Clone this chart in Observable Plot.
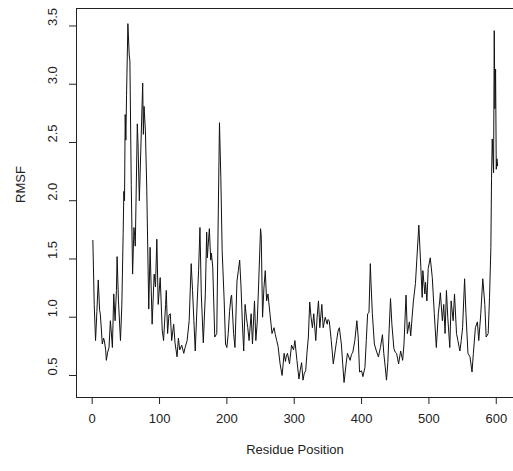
<!DOCTYPE html>
<html>
<head>
<meta charset="utf-8">
<script src="https://cdn.jsdelivr.net/npm/d3@7"></script>
<script src="https://cdn.jsdelivr.net/npm/@observablehq/plot@0.6"></script>
<style>
  html, body { margin: 0; padding: 0; background: #fff; }
  #chart svg { display: block; }
</style>
</head>
<body>
<div id="chart"></div>
<script>
// Residue positions and RMSF values
const residue = [
  1,3,5,7,9,11,12,13,15,17,18,20,21,23,25,27,28,30,32,34,36,37,39,42,44,46,47,48,49,50,
  51,53,55,56,58,60,62,63,64,67,68,70,72,75,76,77,79,81,84,86,89,92,94,96,98,101,104,106,109,110,
  112,114,116,118,121,123,126,128,130,133,136,138,141,144,147,149,151,153,156,158,160,162,165,168,170,171,172,174,176,177,
  179,182,185,187,189,191,193,196,198,200,202,204,206,207,210,212,215,217,219,221,223,225,227,229,231,233,236,238,241,243,
  245,247,250,251,253,255,257,259,261,264,267,270,272,274,276,279,282,285,287,288,290,293,296,299,301,304,307,309,311,313,
  315,317,319,321,323,325,327,329,332,334,336,338,341,343,346,349,350,352,355,358,361,363,365,367,370,372,374,377,379,383,
  385,387,390,393,395,397,400,402,405,407,409,411,413,414,416,419,422,425,428,431,433,435,437,439,441,443,445,448,450,452,
  455,458,461,463,466,468,471,473,475,477,480,482,485,488,490,491,494,495,497,499,502,505,508,511,514,516,517,520,522,524,
  526,528,531,533,536,538,541,543,546,548,550,553,555,558,561,564,566,569,572,574,577,580,583,585,588,590,592,593,594,596,
  597,598,599,600,601,602
];
const rmsf = [
  1.66,1.11,0.80,1.05,1.32,1.06,1.03,0.95,0.77,0.82,0.80,0.72,0.63,0.70,0.74,0.97,0.90,0.74,1.20,0.97,1.23,1.52,1.14,0.80,1.10,1.72,2.08,2.00,2.74,2.52,
  2.90,3.52,3.25,3.20,2.14,1.37,1.77,1.70,1.61,2.66,2.50,2.00,2.40,3.01,2.57,2.81,2.60,2.11,1.07,1.60,0.94,1.37,1.26,1.67,1.11,1.34,0.89,0.80,1.11,1.23,
  0.86,1.02,1.03,0.80,0.94,0.78,0.66,0.82,0.72,0.76,0.69,0.74,0.80,0.97,1.46,1.23,0.97,0.71,1.14,1.40,1.77,1.20,0.78,1.20,1.73,1.51,1.60,1.76,1.49,1.55,
  1.43,0.83,0.86,1.80,2.67,2.20,1.57,1.14,0.77,0.74,0.86,1.05,1.17,1.19,0.86,0.74,1.31,1.40,1.49,1.26,0.95,0.71,1.11,1.00,0.91,0.80,1.03,0.77,1.14,0.80,
  0.95,1.26,1.76,1.70,1.00,1.25,1.40,1.14,1.20,1.03,0.86,0.91,0.85,0.80,0.75,0.60,0.50,0.69,0.62,0.66,0.69,0.60,0.76,0.72,0.80,0.63,0.47,0.55,0.61,0.46,
  0.52,0.54,0.70,0.83,1.13,1.00,0.91,1.03,0.80,1.00,1.14,0.91,1.11,0.91,1.00,0.94,0.98,0.97,0.80,0.60,0.72,0.80,0.88,0.91,0.77,0.60,0.44,0.60,0.69,0.63,
  0.68,0.70,0.80,0.97,0.83,0.53,0.54,0.49,0.57,0.80,1.03,1.04,1.46,1.30,1.03,0.77,0.71,0.66,0.74,0.85,0.69,0.58,0.46,0.61,0.90,1.16,0.94,0.73,0.70,0.69,
  0.60,0.71,0.63,0.77,1.19,0.86,0.96,0.84,1.00,1.14,1.29,1.49,1.79,1.43,1.17,1.40,1.20,1.30,1.14,1.42,1.51,1.34,1.03,0.74,1.03,1.14,1.21,0.97,1.11,0.86,
  1.23,1.00,0.74,1.14,0.97,1.20,0.86,0.80,0.71,0.80,0.91,1.33,1.03,0.69,0.66,0.53,0.69,0.91,0.96,0.80,1.03,1.33,1.11,0.83,0.86,1.17,1.60,2.19,2.53,2.24,
  3.46,2.79,3.13,2.27,2.36,2.30
];
const xTicks = [0, 100, 200, 300, 400, 500, 600];
const yTicks = [0.5, 1.0, 1.5, 2.0, 2.5, 3.0, 3.5];
const yTickLabels = ["0.5", "1.0", "1.5", "2.0", "2.5", "3.0", "3.5"];
const xTitle = "Residue Position";
const yTitle = "RMSF";

const data = residue.map((r, i) => ({residue: r, rmsf: rmsf[i]}));
const xDomain = [-23.3, 625.6];
const yDomain = [0.311, 3.65];
const font = "'Liberation Sans', Arial, Helvetica, sans-serif";

const chart = Plot.plot({
  width: 513,
  height: 471,
  marginLeft: 76,
  marginRight: 0,
  marginTop: 8,
  marginBottom: 74,
  style: {fontFamily: font, fontSize: "13px", background: "#fff", color: "#222"},
  x: {domain: xDomain},
  y: {domain: yDomain},
  marks: [
    Plot.ruleY([yDomain[0], yDomain[1]], {stroke: "#222", strokeWidth: 1}),
    Plot.ruleX([xDomain[0]], {stroke: "#222", strokeWidth: 1}),
    Plot.axisX({ticks: xTicks, tickSize: 7, tickFormat: () => "", label: null, stroke: "#222"}),
    Plot.axisY({ticks: yTicks, tickSize: 7, tickFormat: () => "", label: null, stroke: "#222"}),
    Plot.text(xTicks, {x: d => d, frameAnchor: "bottom", dy: 25, text: d => String(d), fill: "#222", fontSize: 13}),
    Plot.text(yTicks, {y: d => d, frameAnchor: "left", dx: -24, rotate: -90, text: (d, i) => yTickLabels[i], fill: "#222", fontSize: 13}),
    Plot.text([xTitle], {frameAnchor: "bottom", dy: 56, text: d => d, fill: "#222", fontSize: 13}),
    Plot.text([yTitle], {frameAnchor: "left", dx: -56, rotate: -90, text: d => d, fill: "#222", fontSize: 13}),
    Plot.line(data, {x: "residue", y: "rmsf", stroke: "#111", strokeWidth: 1})
  ]
});
document.getElementById("chart").append(chart);
</script>
</body>
</html>
